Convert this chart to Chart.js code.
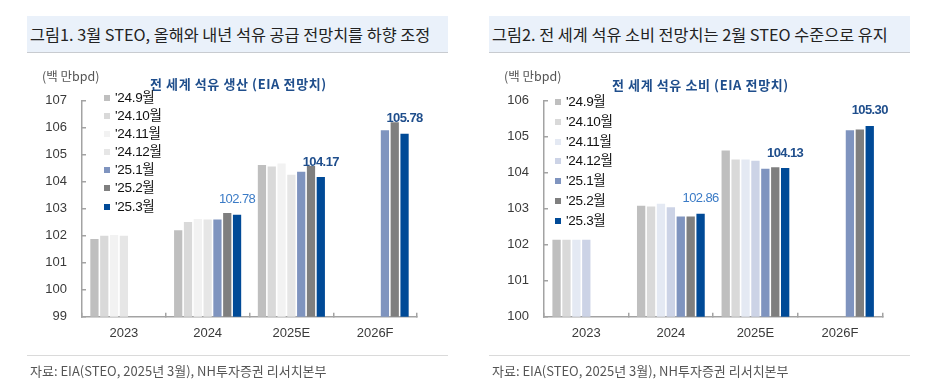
<!DOCTYPE html>
<html>
<head>
<meta charset="utf-8">
<script src="https://cdn.jsdelivr.net/npm/chart.js@4.4.1/dist/chart.umd.min.js"></script>
<style>
  body { margin: 0; width: 928px; height: 390px; background: #fff; position: relative; overflow: hidden;
         font-family: 'Noto Sans CJK KR', 'Liberation Sans', sans-serif; }
  canvas { position: absolute; top: 0; }
  .head { position: absolute; top: 16px; height: 37px; background: #eaf1fa; border-bottom: 1.5px solid #c8cbd0;
          box-sizing: border-box; font-size: 16.3px; line-height: 36px; color: #222; padding-left: 3px; white-space: nowrap; }
  .foot { position: absolute; top: 355px; height: 30px; border-top: 1.5px solid #dadada; box-sizing: border-box;
          font-size: 13px; line-height: 30px; color: #555; padding-left: 3px; white-space: nowrap; }
  .unit { position: absolute; font-size: 12.5px; line-height: 16px; color: #555; white-space: nowrap; }
  .sub { position: absolute; font-size: 13px; line-height: 16px; font-weight: bold; color: #1f4e8c; letter-spacing: 0.6px; white-space: nowrap; }
  .legend { position: absolute; font-family: 'Liberation Sans', 'Noto Sans CJK KR', sans-serif; font-size: 13.5px;
            color: #111; letter-spacing: -0.3px; white-space: nowrap; }
  .legend .box { display: inline-block; width: 6px; height: 6px; margin-right: 5px; vertical-align: 1px; }
</style>
</head>
<body>
<div class="head" style="left:27px;width:421px">그림1. 3월 STEO, 올해와 내년 석유 공급 전망치를 하향 조정</div>
<div class="head" style="left:489px;width:421px">그림2. 전 세계 석유 소비 전망치는 2월 STEO 수준으로 유지</div>

<canvas id="supply" width="464" height="390" style="left:0"></canvas>
<canvas id="demand" width="464" height="390" style="left:464px"></canvas>

<div class="unit" style="left:42px;top:68px">(백 만bpd)</div>
<div class="unit" style="left:504px;top:68px">(백 만bpd)</div>
<div class="sub" style="left:150px;top:76px">전 세계 석유 생산 (EIA 전망치)</div>
<div class="sub" style="left:612px;top:77px">전 세계 석유 소비 (EIA 전망치)</div>
<div class="legend" id="supplyLegend" style="left:104px;top:89px;line-height:18.1px"></div>
<div class="legend" id="demandLegend" style="left:555px;top:92px;line-height:19.8px"></div>

<div class="foot" style="left:27px;width:421px">자료: EIA(STEO, 2025년 3월), NH투자증권 리서치본부</div>
<div class="foot" style="left:489px;width:421px">자료: EIA(STEO, 2025년 3월), NH투자증권 리서치본부</div>

<script>
const categories = ['2023', '2024', '2025E', '2026F'];
const vintages = ["'24.9월", "'24.10월", "'24.11월", "'24.12월", "'25.1월", "'25.2월", "'25.3월"];

// 전 세계 석유 생산 (백만 bpd), STEO 발표월별
const supply_24_9  = [101.88, 102.20, 104.62, null];
const supply_24_10 = [102.00, 102.51, 104.56, null];
const supply_24_11 = [102.03, 102.62, 104.67, null];
const supply_24_12 = [102.00, 102.60, 104.26, null];
const supply_25_1  = [null, 102.60, 104.37, 105.91];
const supply_25_2  = [null, 102.84, 104.58, 106.20];
const supply_25_3  = [null, 102.78, 104.17, 105.78];

// 전 세계 석유 소비 (백만 bpd)
const demand_24_9  = [102.14, 103.08, 104.62, null];
const demand_24_10 = [102.14, 103.06, 104.37, null];
const demand_24_11 = [102.14, 103.14, 104.37, null];
const demand_24_12 = [102.14, 103.04, 104.33, null];
const demand_25_1  = [null, 102.78, 104.11, 105.18];
const demand_25_2  = [null, 102.78, 104.15, 105.20];
const demand_25_3  = [null, 102.86, 104.13, 105.30];

const supplyColors = ['#bfbfbf', '#d9d9d9', '#f2f2f2', '#e6e6e6', '#7f94bf', '#7f7f7f', '#004a97'];
const demandColors = ['#bfbfbf', '#d9d9d9', '#e4e9f3', '#ccd3e6', '#7f94bf', '#7f7f7f', '#004a97'];

const AXIS = '#a3a3a3';
const TICK = '#3a3a3a';
const NUM_FONT = "'Liberation Sans', Arial, sans-serif";

// value labels above the latest ('25.3) vintage
const valueLabels = {
  id: 'valueLabels',
  afterDatasetsDraw(chart) {
    const ctx = chart.ctx;
    const last = chart.data.datasets.length - 1;
    const meta = chart.getDatasetMeta(last);
    chart.data.datasets[last].data.forEach((v, i) => {
      if (v == null) return;
      const bar = meta.data[i];
      const bold = i > 1;
      ctx.save();
      ctx.font = (bold ? 'bold ' : '') + '13px ' + NUM_FONT;
      ctx.fillStyle = bold ? '#1f4e8c' : '#3b7bc6';
      ctx.textAlign = 'center';
      ctx.textBaseline = 'middle';
      ctx.letterSpacing = '-0.6px';
      ctx.fillText(v.toFixed(2), bar.x, bar.y - 15);
      ctx.restore();
    });
  },
};

function makeChart(id, series, colors, yMin, yMax, area) {
  return new Chart(document.getElementById(id), {
    type: 'bar',
    data: {
      labels: categories,
      datasets: series.map((d, i) => ({
        label: vintages[i],
        data: d,
        backgroundColor: colors[i],
        categoryPercentage: 0.82,
        barPercentage: 0.84,
      })),
    },
    options: {
      responsive: false,
      animation: false,
      devicePixelRatio: 1,
      layout: { padding: { left: 0, top: area.top, right: 464 - area.right, bottom: 0 } },
      plugins: { legend: { display: false }, tooltip: { enabled: false } },
      scales: {
        x: {
          grid: { offset: true, drawOnChartArea: false, tickLength: -4, color: AXIS, lineWidth: 1.5 },
          border: { color: AXIS, width: 1.5 },
          ticks: { color: TICK, font: { size: 13, family: NUM_FONT }, padding: 13 },
          afterFit: (s) => { s.height = 390 - area.bottom; },
        },
        y: {
          min: yMin,
          max: yMax,
          grid: { drawOnChartArea: false, tickLength: -4, color: AXIS, lineWidth: 1.5 },
          border: { color: AXIS, width: 1.5 },
          ticks: { stepSize: 1, color: TICK, font: { size: 13, family: NUM_FONT }, padding: 19 },
          afterFit: (s) => { s.width = area.left; },
        },
      },
    },
    plugins: [valueLabels],
  });
}

function buildLegend(chart, el) {
  el.innerHTML = chart.data.datasets
    .map((ds) => '<div><span class="box" style="background:' + ds.backgroundColor + '"></span>' + ds.label + '</div>')
    .join('');
}

const supplyChart = makeChart('supply',
  [supply_24_9, supply_24_10, supply_24_11, supply_24_12, supply_25_1, supply_25_2, supply_25_3],
  supplyColors, 99, 107, { left: 82, right: 417, top: 100.7, bottom: 316.7 });
const demandChart = makeChart('demand',
  [demand_24_9, demand_24_10, demand_24_11, demand_24_12, demand_25_1, demand_25_2, demand_25_3],
  demandColors, 100, 106, { left: 80, right: 418.3, top: 100.7, bottom: 316.7 });

buildLegend(supplyChart, document.getElementById('supplyLegend'));
buildLegend(demandChart, document.getElementById('demandLegend'));
</script>
</body>
</html>
